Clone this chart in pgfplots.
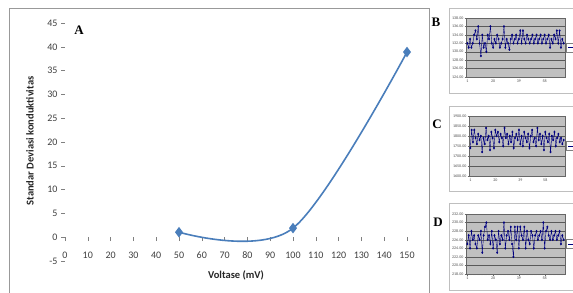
\documentclass[border=0pt]{standalone}
\usepackage{pgfplots}
\pgfplotsset{compat=1.18}
\usepackage{fontspec}
\setmainfont{Carlito}
\newfontfamily\serifb{Liberation Serif}
\definecolor{exblue}{RGB}{74,126,187}
\definecolor{navyc}{RGB}{0,0,128}
\definecolor{plotgray}{RGB}{192,192,192}

\pgfplotsset{
  small/.style={
    anchor=south west, scale only axis,
    xmin=0, xmax=73,
    xtick={1,20,39,58},
    minor xtick={1,...,72},
    axis background/.style={fill=plotgray},
    axis line style={black!60, line width=0.3pt},
    ymajorgrids, grid style={black!65, line width=0.3pt},
    tick align=outside, major tick length=1.5pt, minor tick length=1pt,
    tick style={black!60, line width=0.2pt},
    xtick pos=bottom, ytick pos=left,
    /pgf/number format/assume math mode=true,
    ticklabel style={font=\fontsize{4}{4.5}\selectfont, text=black!70, inner sep=1pt},
    yticklabel style={/pgf/number format/.cd, fixed, fixed zerofill, precision=2, 1000 sep={}},
  },
  ser/.style={navyc, line width=0.4pt, mark=diamond*, mark size=1pt, mark options={fill=navyc}},
}

\begin{document}
\begin{tikzpicture}[x=1pt,y=1pt]
\path[use as bounding box] (0,0) rectangle (573,292);
\fill[white] (0,0) rectangle (573,292);
\draw[black!40, line width=0.8pt] (9,-3) -- (9,284) -- (429,284) -- (429,-3);

\begin{axis}[
  at={(65pt,31pt)}, anchor=south west,
  width=342pt, height=238pt, scale only axis,
  xmin=0, xmax=150, ymin=-5, ymax=45,
  axis x line=middle, axis y line=left,
  axis line style={draw=none,-},
  hide obscured x ticks=false,
  xtick={0,10,...,150}, ytick={-5,0,...,45},
  tick align=outside, major tick length=4pt,
  tick style={black!50, line width=0.5pt},
  /pgf/number format/assume math mode=true,
  ticklabel style={font=\fontsize{10}{12}\selectfont, text=black!75},
  xticklabel style={yshift=-7pt},
  clip=false,
]
\addplot[exblue, line width=1.6pt, smooth, tension=0.54, mark=diamond*, mark size=4pt, mark options={fill=exblue}] coordinates {
(50,1.05) (100,1.9) (150,38.9)
};
\end{axis}

\node[rotate=90, font=\bfseries\fontsize{10.5}{12}\selectfont, text=black!85] at (30,151) {Standar Deviasi konduktivitas};
\node[font=\bfseries\fontsize{10.5}{12}\selectfont, text=black!85] at (236,17) {Voltase (mV)};
\node[font=\serifb\bfseries\fontsize{13}{14}\selectfont] at (79,262) {A};
\node[font=\serifb\bfseries\fontsize{13}{14}\selectfont] at (436,269.5) {B};
\node[font=\serifb\bfseries\fontsize{13}{14}\selectfont] at (437,167.5) {C};
\node[font=\serifb\bfseries\fontsize{13}{14}\selectfont] at (438,69.5) {D};

% frames of small charts
\draw[black!25, line width=0.6pt] (449,199) rectangle (580,284);
\draw[black!25, line width=0.6pt] (449,101) rectangle (580,186);
\draw[black!25, line width=0.6pt] (449,2) rectangle (580,89);

% B
\begin{axis}[small, at={(466pt,215pt)}, width=99pt, height=59pt,
  ymin=124, ymax=138, ytick={124,126,...,138}]
\addplot[ser] table[x expr=\coordindex+1, y index=0, header=false] {
132
131
133
131
132
134
135
133
136
132
129
134
131
132
130
134
133
136
132
131
133
132
134
133
131
132
133
136
131
133
132
130.5
133
134
132
133
134
132
133
135
132
135
133
132
134
133
132
133
134
132
133
134
132
133
134
132
133
134
132
133
134
131
133
132
134
133
135
132
135
131
133
132
};
\end{axis}

% C
\begin{axis}[small, at={(469pt,116pt)}, width=96pt, height=60pt,
  ymin=1600, ymax=1900, ytick={1600,1650,...,1900}]
\addplot[ser] table[x expr=\coordindex+1, y index=0, header=false] {
1740
1830
1770
1830
1790
1760
1810
1780
1800
1720
1790
1760
1840
1780
1800
1730
1820
1790
1740
1830
1800
1820
1770
1810
1790
1750
1840
1790
1810
1760
1800
1770
1820
1740
1790
1810
1780
1830
1760
1800
1750
1820
1790
1770
1810
1740
1800
1830
1770
1790
1750
1840
1780
1810
1760
1800
1730
1820
1790
1770
1810
1720
1800
1780
1820
1750
1790
1810
1770
1790
1760
1780
};
\end{axis}

% D
\begin{axis}[small, at={(466pt,18pt)}, width=99pt, height=60pt,
  ymin=218, ymax=232, ytick={218,220,...,232}]
\addplot[ser] table[x expr=\coordindex+1, y index=0, header=false] {
225
227
224
228
226
227
225
224
227
226
228
223
227
229
230
226
227
225
228
224
227
226
223
228
225
227
226
230
224
227
228
226
229
225
222
229
226
229
224
229
227
226
229
224
228
226
225
228
227
224
227
228
226
227
228
226
230
224
228
229
227
226
228
226
227
228
226
227
228
225
227
226
};
\end{axis}

% cut-off legend boxes
\draw[black!50, fill=white, line width=0.3pt] (566,240) rectangle (578,249);
\draw[navyc, line width=0.4pt] (568,244.5) -- (576,244.5);
\draw[black!50, fill=white, line width=0.3pt] (566,141.5) rectangle (578,150.5);
\draw[navyc, line width=0.4pt] (568,146) -- (576,146);
\draw[black!50, fill=white, line width=0.3pt] (566,43.5) rectangle (578,52.5);
\draw[navyc, line width=0.4pt] (568,48) -- (576,48);
\end{tikzpicture}
\end{document}
